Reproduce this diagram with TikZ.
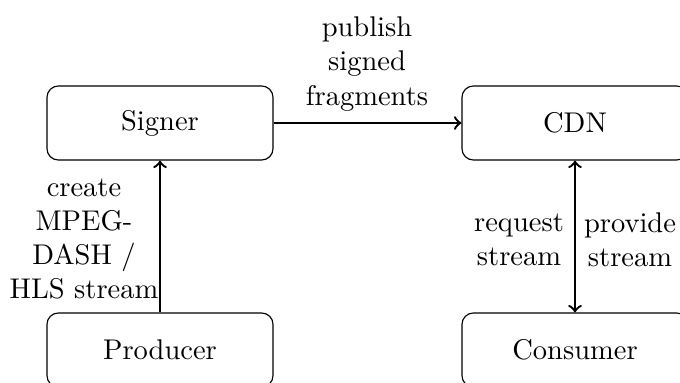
\documentclass[tikz,border=0pt]{standalone}
\begin{document}
\begin{tikzpicture}[
  x=0.012334cm, y=-0.012334cm,
  box/.style={draw, rounded corners, minimum width=2.787cm, minimum height=0.913cm},
  link/.style={thick, ->},
  lbl/.style={align=center, inner sep=0pt}
]
\useasboundingbox (0,0) rectangle (680,382);
\clip (0,0) rectangle (680,382);

% stations of the stream
\node[box] (signer)   at (160,123) {Signer};
\node[box] (cdn)      at (575,123) {CDN};
\node[box] (producer) at (160,350) {Producer};
\node[box] (consumer) at (575,350) {Consumer};

% data flow
\draw[link] (signer) -- (cdn);
\draw[link] (producer) -- (signer);
\draw[thick, <->] (cdn) -- (consumer);

% flow labels
\node[lbl] (lpublish) at (367,64)  {publish\\signed\\fragments};
\node[lbl] (lcreate)  at (84,239)  {create\\MPEG-\\DASH /\\HLS stream};
\node[lbl] (lrequest) at (519,240) {request\\stream};
\node[lbl] (lprovide) at (630,240) {provide\\stream};
\end{tikzpicture}
\end{document}
